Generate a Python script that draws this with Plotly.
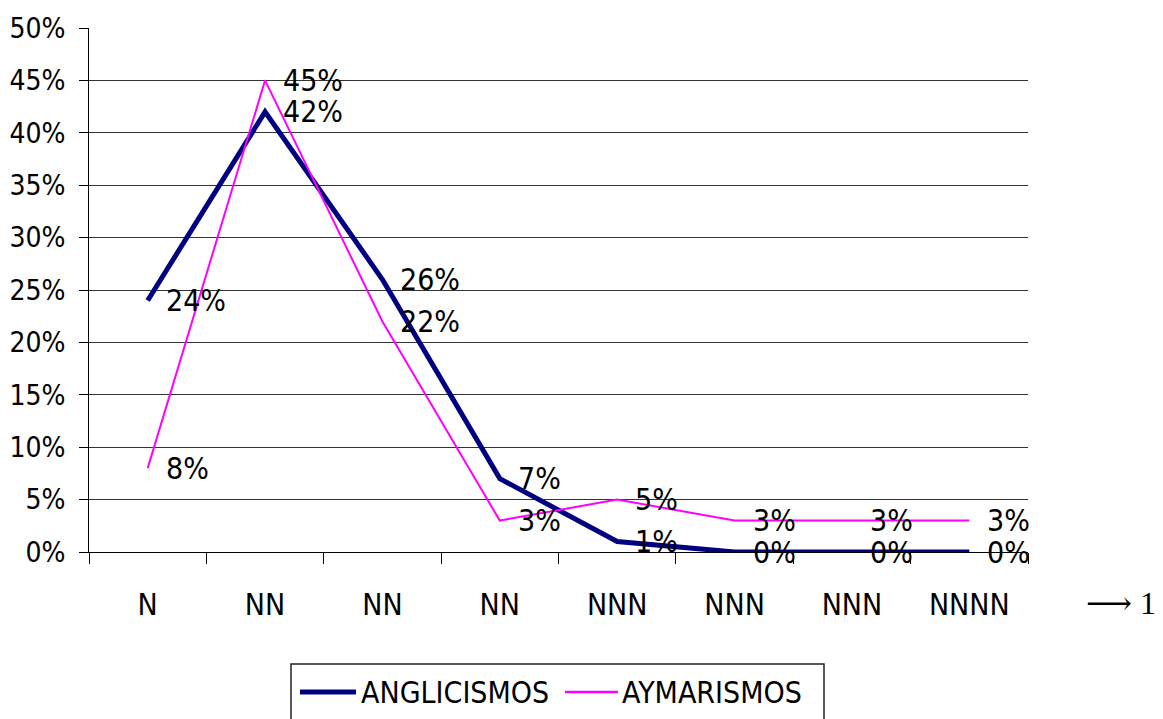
import plotly.graph_objects as go

# Word-structure categories (duplicates are intentional, one per position)
categories = ["N", "NN", "NN", "NN", "NNN", "NNN", "NNN", "NNNN"]
anglicismos = [24, 42, 26, 7, 1, 0, 0, 0]
aymarismos = [8, 45, 22, 3, 5, 3, 3, 3]
y_ticks = [0, 5, 10, 15, 20, 25, 30, 35, 40, 45, 50]

FONT = "DejaVu Sans Condensed, Liberation Sans Narrow, Arial Narrow, sans-serif"
FS = 30
NAVY = "#000080"
MAGENTA = "#FF00FF"

W, H = 1163, 719
ML, MR, MT, MB = 89, 135, 28, 167
PW, PH = W - ML - MR, H - MT - MB


def px(x):
    return (x - ML) / PW


def py(y):
    return (H - MB - y) / PH


xs = list(range(len(categories)))

fig = go.Figure()
fig.add_trace(go.Scatter(x=xs, y=anglicismos, mode="lines", name="ANGLICISMOS",
                         line=dict(color=NAVY, width=5), showlegend=False,
                         cliponaxis=False))
fig.add_trace(go.Scatter(x=xs, y=aymarismos, mode="lines", name="AYMARISMOS",
                         line=dict(color=MAGENTA, width=2), showlegend=False,
                         cliponaxis=False))

annotations = []
for series in (anglicismos, aymarismos):
    for i, v in enumerate(series):
        annotations.append(dict(x=i, y=v, xref="x", yref="y", text=f"{v}%",
                                showarrow=False, xanchor="left", yanchor="middle",
                                xshift=16, font=dict(family=FONT, size=FS, color="black")))

# Arrow marker to the right of the category labels
annotations.append(dict(x=px(1158), y=py(603), xref="paper", yref="paper",
                        text="<span style='font-family:DejaVu Serif'>⟶</span> 1",
                        showarrow=False, xanchor="right", yanchor="middle",
                        font=dict(family="Liberation Serif, Times New Roman, serif",
                                  size=32, color="black")))

# Legend drawn as a framed box below the axis
leg_y = py(692)
annotations.append(dict(x=px(359), y=leg_y, xref="paper", yref="paper",
                        text="ANGLICISMOS", showarrow=False, xanchor="left", yanchor="middle",
                        font=dict(family=FONT, size=FS, color="black")))
annotations.append(dict(x=px(620), y=leg_y, xref="paper", yref="paper",
                        text="AYMARISMOS", showarrow=False, xanchor="left", yanchor="middle",
                        font=dict(family=FONT, size=FS, color="black")))

shapes = [
    dict(type="rect", xref="paper", yref="paper", x0=px(291), x1=px(824),
         y0=py(664), y1=py(740), line=dict(color="#222222", width=1.5),
         fillcolor="rgba(0,0,0,0)"),
    dict(type="line", xref="paper", yref="paper", x0=px(300), x1=px(356),
         y0=leg_y, y1=leg_y, line=dict(color=NAVY, width=5)),
    dict(type="line", xref="paper", yref="paper", x0=px(565), x1=px(618),
         y0=leg_y, y1=leg_y, line=dict(color=MAGENTA, width=2.5)),
]

fig.update_layout(
    width=W, height=H,
    margin=dict(l=ML, r=MR, t=MT, b=MB, pad=0, autoexpand=False),
    paper_bgcolor="white", plot_bgcolor="white",
    font=dict(family=FONT, size=FS, color="black"),
    annotations=annotations,
    shapes=shapes,
    showlegend=False,
)

fig.update_xaxes(
    range=[-0.5, len(categories) - 0.5],
    tickmode="array", tickvals=xs, ticktext=categories,
    ticks="", ticklabelstandoff=26, automargin=False,
    tickfont=dict(family=FONT, size=FS, color="black"),
    showgrid=False, zeroline=False,
    showline=True, linecolor="black", linewidth=1,
    minor=dict(tickmode="linear", tick0=-0.5, dtick=1, ticks="outside",
               ticklen=11, tickcolor="black", tickwidth=1, showgrid=False),
)

fig.update_yaxes(
    range=[0, 50],
    tickmode="array", tickvals=y_ticks, ticktext=[f"{t}%" for t in y_ticks],
    ticks="outside", ticklen=9, tickcolor="black", tickwidth=1,
    ticklabelstandoff=8, automargin=False,
    tickfont=dict(family=FONT, size=28, color="black"),
    showgrid=True, gridcolor="#333333", gridwidth=1,
    zeroline=False,
    showline=True, linecolor="black", linewidth=1,
)

fig.write_html("out.html")
